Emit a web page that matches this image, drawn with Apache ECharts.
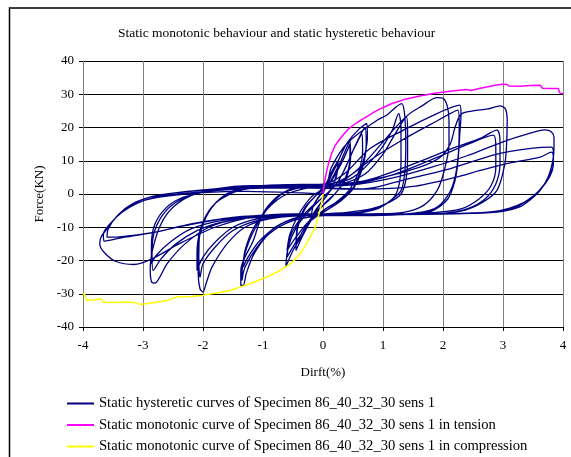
<!DOCTYPE html>
<html>
<head>
<meta charset="utf-8">
<script src="https://cdn.jsdelivr.net/npm/echarts@6/dist/echarts.min.js"></script>
<style>html,body{margin:0;padding:0;background:#fff;}#c{width:571px;height:457px;}</style>
</head>
<body>
<div id="c"></div>
<script>
var titleText = 'Static monotonic behaviour and static hysteretic behaviour';
var xName = 'Dirft(%)';
var yName = 'Force(KN)';
var seriesNames = [
  'Static hysteretic curves of Specimen 86_40_32_30 sens 1',
  'Static monotonic curve of Specimen 86_40_32_30 sens 1 in tension',
  'Static monotonic curve of Specimen 86_40_32_30 sens 1 in compression'
];
var xTicks = [-4, -3, -2, -1, 0, 1, 2, 3, 4];
var yTicks = [-40, -30, -20, -10, 0, 10, 20, 30, 40];

var hystereticCurve = [
[0,0],
[0.1,5],[0.2,8.5],[0.25,10],[0.22,5.5],[0.12,1],[-0.02,-2.5],[-0.12,-5],[-0.2,-8],
[-0.17,-4],[-0.08,-1],[0.05,2],[0.15,6],[0.25,9.5],
[0.22,5],[0.1,0.5],[-0.05,-3],[-0.13,-5],[-0.2,-7.5],
[-0.16,-3.5],[-0.05,-0.5],[0.1,3],[0.3,10],[0.45,16],
[0.46,11],[0.38,4.5],[0.22,0.5],[0.02,-3],[-0.2,-8],[-0.35,-13],[-0.45,-17],
[-0.42,-10],[-0.3,-4.5],[-0.12,-0.5],[0.1,3],[0.3,9],[0.45,15],
[0.44,9],[0.32,3],[0.12,-1.5],[-0.1,-5],[-0.3,-10],[-0.45,-15],
[-0.42,-9],[-0.3,-4],[-0.12,-0.5],[0.12,5],[0.39,15],[0.6,19.5],[0.73,21.2],
[0.74,17],[0.7,12],[0.64,8],[0.51,2.1],[0.28,-1.9],[0.06,-4.9],[-0.16,-6.9],[-0.33,-11.9],[-0.5,-17],[-0.62,-22],
[-0.58,-16],[-0.44,-9.9],[-0.22,-4.9],[0,-0.9],[0.23,3.1],[0.4,9],[0.55,15],[0.7,20],
[0.72,15],[0.66,8],[0.52,2],[0.3,-2],[0.05,-5],[-0.2,-8],[-0.4,-13],[-0.6,-19],
[-0.55,-13],[-0.4,-8],[-0.2,-4],[0,-1],[0.2,2.5],[0.35,7],[0.5,13],[0.65,18],
[0.66,13],[0.6,7],[0.45,1.5],[0.25,-2],[0,-5],[-0.25,-8.5],[-0.45,-13],[-0.6,-17],
[-0.55,-12],[-0.4,-6],[-0.2,-1],[0.05,2.5],[0.14,8],[0.4,15.2],[0.9,22.2],[1.06,23.7],[1.31,27.2],
[1.36,24],[1.38,15],[1.36,6],[1.3,1],[1.12,-2],[0.9,-4.5],[0.5,-6],[0,-6.5],[-0.5,-8],[-0.9,-12],[-1.15,-18],[-1.28,-24],[-1.33,-27.5],[-1.37,-27.5],
[-1.37,-23],[-1.16,-13.9],[-1.0,-5.9],[-0.77,-0.9],[-0.55,1.1],[-0.2,2.3],[0.12,2],[0.45,5.5],[0.73,10.1],[1.17,19.2],[1.39,23.2],
[1.41,19],[1.41,10],[1.38,4],[1.3,0],[1.1,-2.5],[0.8,-4.5],[0.4,-5.5],[0,-6],[-0.4,-7],[-0.8,-10],[-1.1,-16],[-1.3,-22],[-1.35,-26],
[-1.33,-20],[-1.18,-12],[-0.95,-5],[-0.65,0.5],[-0.3,2.5],[0.1,3],[0.5,5],[0.9,12],[1.15,19],[1.26,24.2],
[1.3,20],[1.3,10],[1.27,3],[1.18,-1],[0.95,-4],[0.6,-5.5],[0.2,-6],[-0.3,-6.5],[-0.7,-9],[-1.05,-14],[-1.25,-19],[-1.33,-22],
[-1.3,-17],[-1.15,-10],[-0.9,-4],[-0.6,0],[-0.2,2],[0.3,3],[0.7,6],[1.0,12],[1.2,18],[1.4,23.5],[1.65,26.5],[1.9,29],[2.0,28.8],
[2.07,26.5],[2.1,22],[2.1,15],[2.02,7],[1.9,1],[1.67,-3.5],[1.34,-5.5],[0.8,-6],[0.2,-6.2],[-0.4,-6.5],[-0.9,-7.5],[-1.3,-10],[-1.6,-15],[-1.85,-22],[-1.95,-27],[-2.0,-29.5],[-2.05,-28.5],
[-2.08,-24],[-2.08,-16],[-2.0,-9],[-1.85,-4],[-1.6,0],[-1.2,2.2],[-0.6,2.8],[0,3],[0.35,6],[0.78,13.6],[1.34,19.2],[1.9,24.2],[2.28,26.7],
[2.3,24],[2.28,18],[2.25,10],[2.2,4],[2.08,-1.5],[1.8,-5.2],[1.3,-6.2],[0.6,-6.5],[0,-6.5],[-0.6,-6.8],[-1.1,-8],[-1.5,-11],[-1.8,-16],[-2.0,-21],[-2.05,-25],
[-2.07,-20],[-2.06,-13],[-1.95,-7],[-1.78,-2.5],[-1.55,0.5],[-1.1,2],[-0.5,2.5],[0,2.5],[0.4,5],[0.78,10.1],[1.3,16],[1.8,21],[2.25,25.2],
[2.27,21],[2.26,13],[2.2,5],[2.08,-0.5],[1.85,-4.5],[1.4,-6],[0.7,-6.3],[0,-6.3],[-0.6,-6.5],[-1.1,-7.5],[-1.5,-10],[-1.8,-14.5],[-2.0,-19],[-2.1,-23],
[-2.1,-18],[-2.05,-11],[-1.9,-5],[-1.7,-1.5],[-1.4,1],[-0.9,2.2],[-0.3,2.5],[0.3,3],[1.0,5],[1.6,8],[1.95,11],[2.12,15],[2.2,20],[2.3,24],[2.5,25],[2.75,25.6],[2.95,26.5],[3.04,25.6],
[3.07,22],[3.06,15],[3.03,9],[2.9,1.1],[2.62,-2.9],[2.28,-5.2],[1.8,-6],[1.0,-6.3],[0,-6.5],[-0.8,-6.8],[-1.4,-7.5],[-1.9,-10],[-2.3,-15],[-2.6,-21],[-2.72,-25],[-2.8,-26.8],[-2.86,-26.3],
[-2.88,-22.5],[-2.83,-16],[-2.7,-9],[-2.5,-4],[-2.2,-0.5],[-1.8,1.5],[-1.2,2.5],[-0.5,2.5],[0.2,2.5],[0.8,4.5],[1.5,9],[2.2,14],[2.62,16.7],[2.9,19.2],
[2.95,16],[2.95,9],[2.88,3],[2.7,-1.5],[2.4,-4.5],[2.0,-5.8],[1.2,-6.2],[0.3,-6.3],[-0.5,-6.5],[-1.2,-7],[-1.7,-8.5],[-2.1,-11],[-2.45,-15],[-2.7,-19.5],[-2.83,-23],
[-2.85,-18],[-2.82,-12],[-2.68,-6.5],[-2.45,-2.5],[-2.1,0.3],[-1.6,1.7],[-0.9,2.2],[-0.2,2.2],[0.5,3],[1.2,6],[1.9,11],[2.45,15.2],[2.84,17.7],
[2.88,14],[2.88,8],[2.8,2.5],[2.6,-1.5],[2.3,-4.5],[1.9,-5.5],[1.2,-6],[0.4,-6],[-0.4,-6.2],[-1.1,-6.8],[-1.7,-8],[-2.2,-10.5],[-2.55,-14.5],[-2.78,-18.5],[-2.86,-21],
[-2.86,-16],[-2.82,-10],[-2.66,-5],[-2.4,-1.5],[-2.0,0.5],[-1.4,1.8],[-0.7,2.2],[0,2.3],[0.6,3],[1.2,5],[1.8,8],[2.4,11.5],[3.0,15.7],[3.4,18],[3.7,19.3],[3.8,18.8],
[3.85,17],[3.85,14],[3.83,10],[3.75,5],[3.62,1.1],[3.45,-1.8],[3.28,-3.9],[3.0,-5.2],[2.5,-5.8],[1.5,-6],[0.5,-6],[-0.5,-6],[-1.2,-7],[-1.8,-10],[-2.4,-15],[-2.85,-19.5],[-3.15,-21.2],[-3.45,-20.3],[-3.65,-17.5],[-3.72,-15],
[-3.7,-13],[-3.58,-10],[-3.4,-6],[-3.17,-2.9],[-2.9,-1],[-2.6,0],[-2.0,1.2],[-1.2,2.2],[-0.4,2.2],[0.3,1.5],[0.67,1.5],[1.4,4.5],[2.06,7.3],[2.9,12],[3.5,13.8],[3.81,14.1],
[3.84,12],[3.84,9],[3.76,5],[3.6,1],[3.4,-2],[3.2,-4],[2.9,-5.2],[2.3,-5.8],[1.3,-6],[0.3,-6],[-0.7,-6.2],[-1.5,-7],[-2.2,-9],[-2.8,-11.5],[-3.3,-13],[-3.65,-14.2],
[-3.66,-12],[-3.55,-9],[-3.35,-5.5],[-3.1,-2.8],[-2.8,-1],[-2.4,0],[-1.8,1],[-1.0,1.8],[-0.2,1.8],[0.7,1.5],[1.5,2.3],[2.2,5],[2.62,7.1],[3.1,9.3],[3.62,11.1],[3.81,12.6],
[3.84,10.5],[3.82,7],[3.72,3.5],[3.55,0],[3.35,-2.5],[3.1,-4.3],[2.8,-5.4],[2.2,-6],[1.2,-6.2],[0.2,-6.2],[-0.8,-6.3],[-1.6,-7.3],[-2.3,-9.5],[-2.9,-11.8],[-3.35,-12.8],[-3.6,-13],
[-3.58,-10.5],[-3.45,-7],[-3.25,-4],[-2.95,-1.8],[-2.6,-0.6],[-2.0,0.4],[-1.3,0.8],[-0.6,0.5],[0,0]
];

var tensionCurve = [
[0,0],[0.01,1.5],[0.02,3],[0.035,4.5],[0.05,6],[0.07,7.5],[0.09,9],[0.115,10.5],[0.14,12],[0.17,13.3],[0.2,14.5],[0.25,15.8],[0.3,17],[0.36,18.3],[0.42,19.5],[0.5,20.6],[0.57,21.5],[0.66,22.5],[0.75,23.5],[0.85,24.6],[0.95,25.6],[1.05,26.4],[1.15,27.2],[1.27,27.9],[1.39,28.6],[1.52,29.1],[1.65,29.6],[1.77,30],[1.89,30.4],[2.02,30.7],[2.15,31],[2.27,31.2],[2.39,31.4],[2.42,30.9],[2.47,31.1],[2.6,31.7],[2.73,32.2],[2.85,32.6],[2.98,33],[3.06,33],[3.1,32.5],[3.28,32.4],[3.45,32.6],[3.62,32.7],[3.66,31.8],[3.8,31.7],[3.92,31.7],[3.95,30.3],[4,30.2]
];

var compressionCurve = [
[0,0],[-0.01,-1.2],[-0.02,-2.5],[-0.035,-3.7],[-0.05,-4.9],[-0.07,-6.2],[-0.09,-7.5],[-0.11,-8.7],[-0.13,-9.9],[-0.16,-11],[-0.19,-12.2],[-0.24,-13.9],[-0.31,-16],[-0.38,-17.9],[-0.47,-19.8],[-0.58,-21.4],[-0.72,-23],[-0.88,-24.5],[-1.05,-25.8],[-1.22,-27],[-1.38,-28],[-1.55,-29],[-1.75,-29.7],[-1.94,-30.2],[-2.0,-30.5],[-2.2,-30.8],[-2.44,-31],[-2.46,-31.6],[-2.6,-32],[-2.8,-32.6],[-3.05,-33.2],[-3.15,-32.6],[-3.27,-32.5],[-3.5,-32.6],[-3.66,-32.5],[-3.69,-31.6],[-3.8,-31.8],[-3.94,-32],[-3.97,-30.3],[-4,-30]
];

var FONT = '"Liberation Serif", "Times New Roman", serif';
var legendTops = [395.5, 417, 438.5];
var legends = seriesNames.map(function (n, i) {
  return {
    orient: 'vertical', left: 67, top: legendTops[i], padding: 0,
    icon: 'rect', itemWidth: 27, itemHeight: 2, itemGap: 0,
    textStyle: {fontFamily: FONT, fontSize: 14.6, color: '#000', lineHeight: 16},
    data: [n]
  };
});
var chart = echarts.init(document.getElementById('c'), null, {renderer: 'canvas'});
chart.setOption({
  animation: false,
  backgroundColor: '#ffffff',
  title: {
    text: titleText,
    left: 113, top: 21,
    textStyle: {fontFamily: FONT, fontSize: 13.5, fontWeight: 'normal', color: '#000'}
  },
  graphic: [{
    type: 'rect', silent: true, z: -1,
    shape: {x: 9.5, y: 8, width: 700, height: 600},
    style: {fill: 'none', stroke: '#000', lineWidth: 1.5}
  }],
  legend: legends,
  grid: {left: 83, right: 8, top: 61, bottom: 130, containLabel: false},
  xAxis: {
    type: 'value', min: xTicks[0], max: xTicks[xTicks.length - 1], interval: 1,
    name: xName, nameLocation: 'middle', nameGap: 39,
    nameTextStyle: {fontFamily: FONT, fontSize: 13, color: '#000'},
    axisLine: {onZero: false, lineStyle: {color: '#000', width: 1}},
    axisTick: {show: true, length: 4, lineStyle: {color: '#000'}},
    axisLabel: {margin: 12, fontFamily: FONT, fontSize: 13, color: '#000'},
    splitLine: {show: true, lineStyle: {color: '#808080', width: 1}}
  },
  yAxis: {
    type: 'value', min: yTicks[0], max: yTicks[yTicks.length - 1], interval: 10,
    name: yName, nameLocation: 'middle', nameGap: 25,
    nameTextStyle: {fontFamily: FONT, fontSize: 13, color: '#000'},
    axisLine: {show: true, onZero: false, lineStyle: {color: '#808080', width: 1}},
    axisTick: {show: true, length: 4, lineStyle: {color: '#000'}},
    axisLabel: {margin: 9, fontFamily: FONT, fontSize: 13, color: '#000'},
    splitLine: {show: true, lineStyle: {color: '#000', width: 1}}
  },
  series: [
    {name: seriesNames[0], type: 'line', data: hystereticCurve, symbol: 'none', smooth: 0.3,
     lineStyle: {color: '#000080', width: 1.3}, itemStyle: {color: '#000080'}, z: 2},
    {name: seriesNames[1], type: 'line', data: tensionCurve, symbol: 'none', smooth: false,
     lineStyle: {color: '#ff00ff', width: 1.5}, itemStyle: {color: '#ff00ff'}, z: 3},
    {name: seriesNames[2], type: 'line', data: compressionCurve, symbol: 'none', smooth: false,
     lineStyle: {color: '#ffff00', width: 1.5}, itemStyle: {color: '#ffff00'}, z: 4}
  ]
});
</script>
</body>
</html>
